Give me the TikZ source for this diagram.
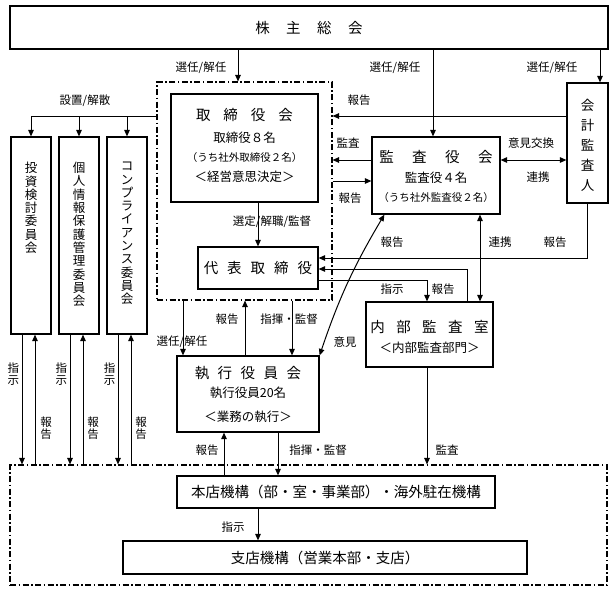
\documentclass[tikz,border=0pt]{standalone}
\usepackage{fontspec}
\setmainfont{Noto Sans CJK JP}
\usetikzlibrary{arrows.meta,calc}
\begin{document}
\begin{tikzpicture}[x=1pt,y=-1pt,
  box/.style={draw, line width=1.2pt, inner sep=0pt},
  grp/.style={draw, line width=1.1pt, dash pattern=on 6pt off 2.5pt on 1.5pt off 2.5pt},
  ln/.style={line width=1pt},
  conn/.style={line width=1pt, -{Triangle[length=6.5pt,width=5.5pt]}},
  dconn/.style={line width=1pt, {Triangle[length=6.5pt,width=5.5pt]}-{Triangle[length=6.5pt,width=5.5pt]}},
  lbl/.style={inner sep=0pt, font=\fontsize{11.5}{12}\selectfont},
  vlbl/.style={inner sep=0pt, align=center, font=\fontsize{11.5}{12}\selectfont},
  ttl/.style={inner sep=0pt, font=\fontsize{14.5}{15}\selectfont},
  sub/.style={inner sep=0pt, font=\fontsize{12.5}{13}\selectfont},
  sml/.style={inner sep=0pt, font=\fontsize{10.5}{11}\selectfont},
  vtxt/.style={inner sep=0pt, align=center, anchor=north, font=\fontsize{12.5}{13.3}\selectfont},
]
\useasboundingbox (0,0) rectangle (614,592);

% ---- boxes ----
\node[box, minimum width=598pt, minimum height=43pt] (kabu) at (309,27.5) {};
\node[grp, minimum width=175pt, minimum height=218pt] (g1) at (244.5,191) {};
\node[box, minimum width=147pt, minimum height=108pt] (tori) at (244.5,148) {};
\node[box, minimum width=120pt, minimum height=42pt] (daihyo) at (258,268) {};
\node[box, minimum width=128pt, minimum height=77pt] (kansa) at (436,175.5) {};
\node[box, minimum width=41pt, minimum height=120pt] (kaikei) at (587.5,143) {};
\node[box, minimum width=40pt, minimum height=197pt] (c1) at (31,235.5) {};
\node[box, minimum width=40pt, minimum height=197pt] (c2) at (79,235.5) {};
\node[box, minimum width=40pt, minimum height=197pt] (c3) at (127,235.5) {};
\node[box, minimum width=142pt, minimum height=76pt] (shikko) at (248,394) {};
\node[box, minimum width=127pt, minimum height=65pt] (naibu) at (429.5,334.5) {};
\node[grp, minimum width=597pt, minimum height=120pt] (g2) at (308.5,525) {};
\node[box, minimum width=318pt, minimum height=32pt] (honten) at (336,492) {};
\node[box, minimum width=404pt, minimum height=33pt] (shiten) at (325,557.5) {};

% ---- texts in boxes ----
\node[ttl] (kabuT) at (309,28) {株\hspace{16.5pt}主\hspace{16.5pt}総\hspace{16.5pt}会};
\node[ttl] (toriT) at (244.5,115) {取\hspace{13pt}締\hspace{13pt}役\hspace{13pt}会};
\node[sub] (toriA) at (244.5,138) {取締役８名};
\node[sml] (toriB) at (244.5,158) {（うち社外取締役２名）};
\node[sub] (toriC) at (244.5,177) {＜経営意思決定＞};
\node[ttl] (daihyoT) at (258,268) {代\hspace{9pt}表\hspace{9pt}取\hspace{9pt}締\hspace{9pt}役};
\node[ttl] (kansaT) at (436,157) {監\hspace{18.5pt}査\hspace{18.5pt}役\hspace{18.5pt}会};
\node[sub] (kansaA) at (436,178) {監査役４名};
\node[sml] (kansaB) at (436,198) {（うち社外監査役２名）};
\node[inner sep=0pt, align=center, font=\fontsize{13.5}{20}\selectfont] (kaikeiT) at (587.5,145) {会\\計\\監\\査\\人};
\node[vtxt] (c1T) at (31,162) {投\\資\\検\\討\\委\\員\\会};
\node[vtxt] (c2T) at (79,162) {個\\人\\情\\報\\保\\護\\管\\理\\委\\員\\会};
\node[vtxt] (c3T) at (127,162) {コ\\ン\\プ\\ラ\\イ\\ア\\ン\\ス\\委\\員\\会};
\node[ttl] (shikkoT) at (248,373) {執\hspace{8.5pt}行\hspace{8.5pt}役\hspace{8.5pt}員\hspace{8.5pt}会};
\node[sub] (shikkoA) at (248,393) {執行役員20名};
\node[sub] (shikkoB) at (248,417) {＜業務の執行＞};
\node[ttl] (naibuT) at (429.5,327) {内\hspace{11.5pt}部\hspace{11.5pt}監\hspace{11.5pt}査\hspace{11.5pt}室};
\node[sub] (naibuA) at (429.5,348) {＜内部監査部門＞};
\node[ttl] (hontenT) at (336,492) {本店機構（部・室・事業部）・海外駐在機構};
\node[ttl] (shitenT) at (325,557.5) {支店機構（営業本部・支店）};

% ---- helper coordinates ----
\coordinate (xA) at (238,0);
\coordinate (xB) at (433,0);
\coordinate (xC) at (600,0);
\coordinate (xD) at (467,0);
\coordinate (xE) at (427,0);
\coordinate (xF) at (480,0);
\coordinate (xG) at (183,0);
\coordinate (xH) at (245,0);
\coordinate (xI) at (292,0);
\coordinate (xJ) at (224,0);
\coordinate (xK) at (278,0);
\coordinate (xL) at (258,0);
\coordinate (y116) at (0,116);
\coordinate (y160) at (0,160);
\coordinate (y181) at (0,181);
\coordinate (y258) at (0,258);
\coordinate (y269) at (0,269);
\coordinate (y280) at (0,280);

% ---- connectors ----
\draw[conn] (kabu.south -| xA) -- (g1.north -| xA);
\draw[conn] (kabu.south -| xB) -- (kansa.north -| xB);
\draw[conn] (kabu.south -| xC) -- (kaikei.north -| xC);
\draw[ln] (g1.west |- y116) -- (c1.north |- y116);
\foreach \c in {c1,c2,c3} {
  \draw[conn] (\c.north |- y116) -- (\c.north);
  \draw[conn] ($(\c.south)+(-9,0)$) -- ($(\c.south |- g2.north)+(-9,0)$);
  \draw[conn] ($(\c.south |- g2.north)+(4,0)$) -- ($(\c.south)+(4,0)$);
}
\draw[conn] (tori.south -| daihyo.north) -- (daihyo.north);
\draw[conn] (kaikei.west |- y116) -- (g1.east |- y116);
\draw[conn] (kansa.west |- y160) -- (g1.east |- y160);
\draw[conn] (g1.east |- y181) -- (kansa.west |- y181);
\draw[dconn] (kansa.east |- y160) -- (kaikei.west |- y160);
\draw[conn] (kaikei.south) |- (daihyo.east |- y258);
\draw[conn] (naibu.north -| xD) |- (daihyo.east |- y269);
\draw[conn] (daihyo.east |- y280) -| (naibu.north -| xE);
\draw[dconn] (kansa.south -| xF) -- (naibu.north -| xF);
\draw[dconn] (shikko.north east) to[bend left=6] ($(kansa.south west)+(13,0)$);
\draw[conn] (g1.south -| xG) -- (shikko.north -| xG);
\draw[conn] (shikko.north -| xH) -- (g1.south -| xH);
\draw[conn] (g1.south -| xI) -- (shikko.north -| xI);
\draw[conn] (honten.north -| xJ) -- (shikko.south -| xJ);
\draw[conn] (shikko.south -| xK) -- (honten.north -| xK);
\draw[conn] (naibu.south -| xE) -- (g2.north -| xE);
\draw[conn] (honten.south -| xL) -- (shiten.north -| xL);

% ---- labels ----
\node[lbl] (l1) at (201,68) {選任/解任};
\node[lbl] (l2) at (395,68) {選任/解任};
\node[lbl] (l3) at (552,68) {選任/解任};
\node[lbl] (l4) at (85,101) {設置/解散};
\node[lbl] (l5) at (272,222) {選定/解職/監督};
\node[lbl] (l6) at (359,100) {報告};
\node[lbl] (l7) at (348,143) {監査};
\node[lbl] (l8) at (350,198) {報告};
\node[lbl] (l9) at (531,143) {意見交換};
\node[lbl] (l10) at (538,177) {連携};
\node[lbl] (l11) at (392,242) {報告};
\node[lbl] (l12) at (500,242) {連携};
\node[lbl] (l13) at (555,242) {報告};
\node[lbl] (l14) at (392,289) {指示};
\node[lbl] (l15) at (443,289) {報告};
\node[lbl] (l16) at (182,342) {選任/解任};
\node[lbl] (l17) at (227,319) {報告};
\node[lbl] (l18) at (289,319) {指揮・監督};
\node[lbl] (l19) at (345,342) {意見};
\node[lbl] (l20) at (207,450) {報告};
\node[lbl] (l21) at (318,450) {指揮・監督};
\node[lbl] (l22) at (447,450) {監査};
\node[lbl] (l23) at (233,527) {指示};
\node[vlbl] (v1) at (13.5,374) {指\\示};
\node[vlbl] (v2) at (46,428) {報\\告};
\node[vlbl] (v3) at (61.5,374) {指\\示};
\node[vlbl] (v4) at (93,428) {報\\告};
\node[vlbl] (v5) at (109.5,374) {指\\示};
\node[vlbl] (v6) at (141,428) {報\\告};
\end{tikzpicture}
\end{document}
